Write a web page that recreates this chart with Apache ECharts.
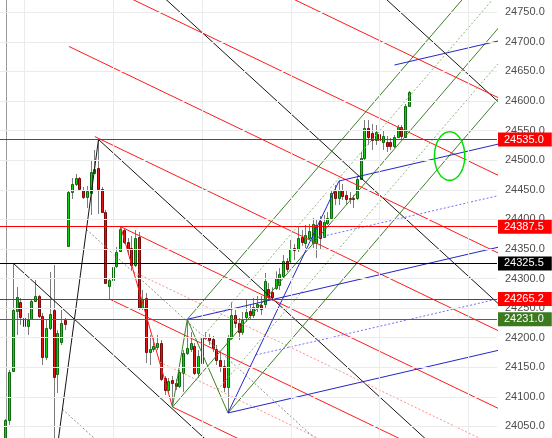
<!DOCTYPE html>
<html><head><meta charset="utf-8">
<script src="https://cdn.jsdelivr.net/npm/echarts@6/dist/echarts.min.js"></script>
<style>html,body{margin:0;padding:0;background:#fff}#c{width:552px;height:438px}</style>
</head><body><div id="c"></div><script>
// ---- candles (x = candle number) ----
const opens = [24026.9,24060.7,24143.6,24245.0,24260.2,24233.2,24219.7,24231.5,24261.9,24270.4,
 24236.6,24167.2,24216.3,24246.7,24138.5,24192.6,24229.9,24354.9,24446.2,24459.7,
 24469.9,24449.6,24437.7,24444.5,24478.3,24486.8,24451.3,24412.4,24287.3,24297.3,
 24321.1,24346.5,24382.0,24361.7,24351.5,24322.8,24370.1,24250.1,24267.0,24175.7,
 24180.8,24184.2,24190.9,24131.7,24111.5,24128.4,24123.3,24118.2,24140.2,24174.0,
 24180.8,24185.8,24140.2,24157.1,24201.1,24201.1,24197.7,24180.8,24162.2,24152.0,
 24116.5,24199.4,24238.3,24224.7,24209.5,24234.9,24245.0,24238.3,24251.8,24255.2,
 24256.9,24282.2,24277.1,24283.9,24289.0,24304.2,24329.5,24329.5,24351.5,24349.8,
 24370.1,24360.0,24368.4,24360.0,24360.0,24397.2,24370.6,24394.3,24402.8,24447.9,
 24436.6,24449.1,24440.6,24436.6,24436.6,24436.6,24468.7,24504.2,24554.4,24546.0,
 24534.1,24544.3,24530.7,24531.2,24531.2,24524.0,24539.7,24555.6,24539.7,24591.6];
const closes = [24060.7,24141.9,24246.7,24268.7,24234.9,24219.7,24229.9,24261.9,24270.4,24236.6,
 24167.2,24216.3,24239.9,24133.4,24207.8,24224.7,24223.0,24446.2,24459.7,24469.9,
 24451.3,24437.7,24447.9,24480.0,24485.1,24451.3,24412.4,24292.4,24297.3,24319.4,
 24344.8,24383.7,24361.7,24349.8,24322.8,24368.4,24250.1,24265.3,24175.7,24180.8,
 24185.8,24190.9,24130.1,24111.5,24126.7,24123.3,24118.2,24141.9,24174.0,24182.5,
 24190.9,24140.2,24169.0,24201.1,24199.4,24196.0,24182.5,24162.2,24152.0,24116.5,
 24199.4,24238.3,24224.7,24209.5,24229.9,24243.3,24238.3,24251.8,24256.9,24248.4,
 24295.7,24268.7,24268.7,24300.8,24307.6,24329.5,24316.0,24349.8,24348.1,24368.4,
 24361.7,24373.5,24380.3,24392.1,24390.4,24368.4,24395.5,24402.8,24445.0,24436.6,
 24449.1,24439.4,24434.9,24433.9,24434.9,24468.7,24504.2,24554.4,24539.2,24534.1,
 24547.6,24534.1,24540.9,24524.0,24524.0,24539.7,24555.6,24540.9,24591.6,24616.0];
const highs = [24062.4,24145.3,24325.5,24285.6,24267.0,24250.1,24241.6,24263.6,24297.3,24272.1,
 24241.6,24229.9,24311.0,24322.8,24212.9,24246.7,24233.2,24449.6,24469.9,24476.6,
 24471.6,24454.7,24456.4,24500.3,24517.2,24535.0,24454.7,24415.8,24299.1,24327.9,
 24353.2,24387.5,24383.7,24368.4,24371.8,24382.0,24378.6,24280.5,24275.4,24204.4,
 24199.4,24204.4,24196.0,24135.1,24131.7,24135.1,24130.1,24145.3,24179.1,24231.0,
 24209.5,24190.9,24179.1,24211.2,24209.5,24206.1,24202.8,24187.5,24175.7,24162.2,
 24204.4,24260.2,24246.7,24233.2,24243.3,24263.6,24255.2,24267.0,24270.4,24270.4,
 24309.3,24292.4,24285.0,24312.0,24317.7,24339.7,24334.6,24365.1,24358.3,24388.7,
 24382.0,24390.4,24392.1,24402.3,24400.0,24405.6,24407.3,24412.4,24449.6,24458.0,
 24464.8,24459.7,24449.6,24446.2,24441.1,24473.3,24513.8,24567.9,24567.9,24561.2,
 24559.5,24554.4,24551.0,24540.9,24537.5,24542.6,24559.5,24559.5,24595.0,24617.0];
const lows = [24013.4,24052.3,24141.9,24204.4,24221.4,24216.3,24204.4,24229.9,24260.2,24233.2,
 24153.7,24162.2,24212.9,24010.0,24106.4,24187.5,24212.9,24353.2,24434.4,24456.4,
 24449.6,24434.4,24419.2,24407.3,24476.6,24409.0,24410.7,24290.7,24265.2,24294.0,
 24317.7,24344.8,24358.3,24339.7,24314.3,24319.4,24246.7,24246.7,24157.1,24153.7,
 24175.7,24179.1,24126.7,24103.0,24106.4,24082.7,24111.5,24114.8,24108.1,24170.6,
 24175.7,24136.8,24131.7,24152.0,24196.0,24187.5,24175.7,24153.7,24141.9,24108.1,
 24072.6,24196.0,24216.3,24196.0,24204.4,24226.4,24229.9,24233.2,24243.3,24238.3,
 24250.1,24263.6,24262.0,24280.5,24280.5,24300.8,24311.0,24326.2,24331.2,24344.8,
 24354.9,24351.5,24365.1,24351.5,24334.6,24348.1,24368.4,24390.4,24400.6,24424.2,
 24424.2,24432.7,24424.2,24425.9,24419.2,24432.7,24466.5,24500.3,24525.7,24517.2,
 24525.7,24520.6,24517.2,24513.8,24517.2,24520.6,24537.5,24535.8,24537.5,24589.9];

// ---- axis ticks ----
const yTicks = [24050,24100,24150,24200,24250,24300,24350,24400,24450,24500,24550,24600,24650,24700,24750];
const xGridTicks = [5,29,53,77,101,125];

// ---- pitchfork anchors [candle, price] ----
const forkP0 = [[2,24325.5],[28,24265.2],[45,24082.7],[49,24231.0]];
const forkP1 = [[25,24535.0],[31,24387.5],[49,24231.0],[60,24072.6]];
const forkP2 = [[12,23927.0],[45,24082.7],[60,24072.6],[90,24464.8]];
const forkLevels = [[-1,-0.5,0,0.25,0.5,0.75,1],[-2,-1.5,-1,-0.5,0,0.25,0.5,0.75,1],[0,0.25,0.5,0.75,1],[0,0.25,0.5,0.75,1,1.5]];
const forkHandle = [false,false,true,false];
const forkColors = ['#141414','#ff1a1a','#3f7f27','#2626c4'];
const forkDotColors = ['#8a8a8a','#ff8c8c','#86b874','#6f6fff'];

// ---- horizontal levels & price tag ----
const hLevels = [24535.0,24387.5,24325.5,24265.2,24231.0];
const hColors = ['#ff0000','#ff0000','#000000','#ff0000','#3b7a1e'];
const lastPrice = 24616.0;

// ---- ellipse annotation [candle, price, rx(candles), ry(price)] ----
const ellipse = [[119.9,24507,4.1,41]];

const X_MIN=-1.62, X_MAX=132.7, X_END=140;
const Y_MIN=24030.3, Y_MAX=24770.8;

const series = [];
// grid lines
series.push({type:'line', z:0, silent:true, data:[],
  markLine:{symbol:['none','none'], silent:true, animation:false, label:{show:false},
    lineStyle:{color:'#ebebeb',width:1,type:'solid'},
    data: yTicks.map(v=>({yAxis:v})).concat(xGridTicks.map(v=>({xAxis:v})))}});

series.push({
  type:'custom', z:2, clip:true,
  renderItem:function(params, api){
    const x=api.value(0), o=api.value(1), c=api.value(2), h=api.value(3), l=api.value(4);
    const pO=api.coord([x,o]), pC=api.coord([x,c]), pH=api.coord([x,h]), pL=api.coord([x,l]);
    const cx=Math.floor(pO[0]);
    const up=c>=o;
    const top=Math.round(Math.min(pO[1],pC[1]));
    const bot=Math.round(Math.max(pO[1],pC[1]));
    return {type:'group', children:[
      {type:'line', shape:{x1:cx+0.5,y1:pH[1],x2:cx+0.5,y2:pL[1]}, style:{stroke:'#7c7c7c',lineWidth:1}},
      {type:'rect', shape:{x:cx-0.5,y:top+0.5,width:2,height:Math.max(1,bot-top)}, style:{fill:up?'#10d010':'#e81010',stroke:up?'#0b6b0b':'#7a0a0a',lineWidth:1}}
    ]};
  },
  encode:{x:0,y:[1,2,3,4]},
  data: opens.map((o,i)=>[i,o,closes[i],highs[i],lows[i]])
});

function pushLine(a,b,color,dotted,width){
  series.push({type:'line', z:3, silent:true, showSymbol:false, symbol:'none', clip:true,
    lineStyle:{color:color,width:width||1,type:dotted?[2,2]:'solid'},
    data:[a,b]});
}
for(let k=0;k<forkP0.length;k++){
  const p0=forkP0[k], p1=forkP1[k], p2=forkP2[k];
  const mid=[(p1[0]+p2[0])/2,(p1[1]+p2[1])/2];
  const dx=mid[0]-p0[0], dy=mid[1]-p0[1];
  forkLevels[k].forEach(f=>{
    const s = f===0.5 ? p0 : [p1[0]+f*(p2[0]-p1[0]), p1[1]+f*(p2[1]-p1[1])];
    const t=(X_END-s[0])/dx;
    const dotted=(f===0.25||f===0.75);
    pushLine(s,[X_END,s[1]+t*dy], dotted?forkDotColors[k]:forkColors[k], dotted);
  });
  pushLine(p1,p2,forkColors[k],false);
  if(forkHandle[k]) pushLine(p0,p1,forkColors[k],false);
}

// horizontal lines + price tags
series.push({type:'line', z:4, silent:true, data:[],
  markLine:{symbol:['none','none'], silent:true, animation:false,
    label:{show:true, position:'end', distance:1, fontSize:11, fontFamily:'Liberation Sans',
      padding:[2,8,1,6], formatter:p=>Number(p.value).toFixed(1)},
    data: hLevels.map((v,i)=>({yAxis:v, lineStyle:{color:hColors[i],width:1.2,type:'solid'},
        label:{backgroundColor:hColors[i],color:'#ffffff'}}))
      .concat([{yAxis:lastPrice, lineStyle:{opacity:0}, label:{backgroundColor:'#00e400',color:'#000000'}}])
  }});

// ellipse
series.push({type:'custom', z:5, clip:true, silent:true,
  renderItem:function(params, api){
    const c=api.coord([api.value(0),api.value(1)]);
    const s=api.size([api.value(2),api.value(3)]);
    const pts=[];
    for(let a=0;a<72;a++){const t=a/72*Math.PI*2; pts.push([c[0]+s[0]*Math.cos(t), c[1]+s[1]*Math.sin(t)]);}
    return {type:'polygon', shape:{points:pts}, style:{fill:'none',stroke:'#00e000',lineWidth:1.5}};
  },
  encode:{x:0,y:1},
  data: ellipse});

const chart=echarts.init(document.getElementById('c'));
chart.setOption({
  animation:false,
  grid:{left:0,right:55,top:0,bottom:0},
  xAxis:{type:'value',min:X_MIN,max:X_MAX,
    axisLine:{show:false},axisTick:{show:false},axisLabel:{show:false},splitLine:{show:false}},
  yAxis:{type:'value',position:'right',min:Y_MIN,max:Y_MAX,
    axisLine:{show:true,lineStyle:{color:'#9a9a9a'}},
    axisTick:{show:true,length:3,lineStyle:{color:'#9a9a9a'},customValues:yTicks},
    axisLabel:{color:'#4d4d4d',fontSize:11,fontFamily:'Liberation Sans',margin:8,customValues:yTicks,formatter:v=>Number(v).toFixed(1)},
    splitLine:{show:false}},
  series:series
});
</script></body></html>
